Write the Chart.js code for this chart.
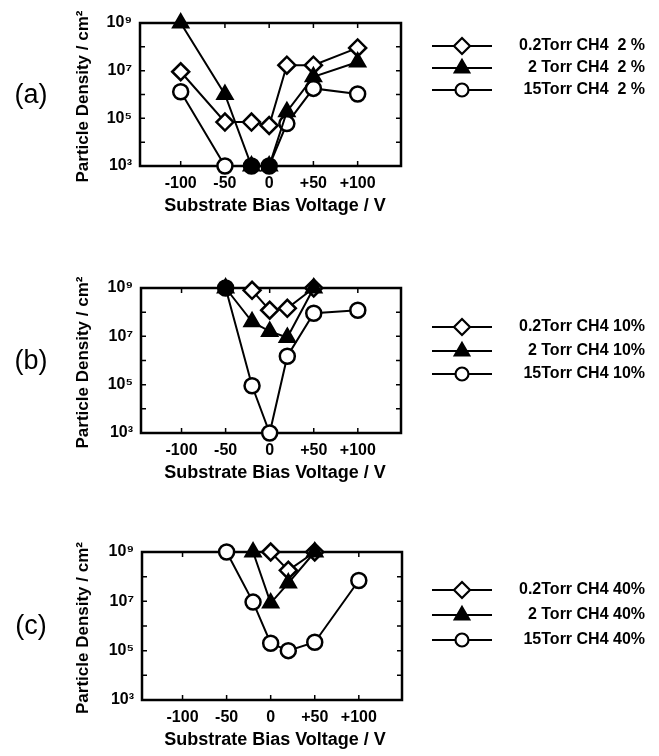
<!DOCTYPE html>
<html>
<head>
<meta charset="utf-8">
<script src="https://cdn.jsdelivr.net/npm/chart.js@4.4.1/dist/chart.umd.min.js"></script>
<style>
  html, body { margin: 0; padding: 0; background: #fff; }
  #wrap { position: relative; width: 659px; height: 756px; }
  canvas { position: absolute; left: 0; }
</style>
</head>
<body>
<div id="wrap">
  <canvas id="panelA" width="659" height="252" style="top:0px"></canvas>
  <canvas id="panelB" width="659" height="252" style="top:252px"></canvas>
  <canvas id="panelC" width="659" height="252" style="top:504px"></canvas>
</div>
<script>
// -------- Data --------
const xTicks = [-100, -50, 0, 50, 100];
const yTicks = [1e3, 1e5, 1e7, 1e9];

// panel (a): CH4 2 %
const voltageA = [-100, -50, -20, 0, 20, 50, 100];
const diamondA = [9e6, 7e4, 7e4, 5e4, 1.7e7, 1.7e7, 9e7];
const triangleA = [1e9, 1e6, 1e3, 1e3, 1.9e5, 5.5e6, 2.3e7];
const circleA = [1.3e6, 1e3, 1e3, 1e3, 6e4, 1.8e6, 1.05e6];
const namesA = ['0.2Torr CH4  2 %', '2 Torr CH4  2 %', '15Torr CH4  2 %'];

// panel (b): CH4 10%
const voltageB = [-50, -20, 0, 20, 50, 100];
const diamondB = [null, 8e8, 1.2e8, 1.45e8, 1e9, null];
const triangleB = [1e9, 4e7, 1.6e7, 9e6, 1e9, null];
const circleB = [1e9, 9e4, 1e3, 1.5e6, 9e7, 1.2e8];
const namesB = ['0.2Torr CH4 10%', '2 Torr CH4 10%', '15Torr CH4 10%'];

// panel (c): CH4 40%
const voltageC = [-50, -20, 0, 20, 50, 100];
const diamondC = [null, null, 1e9, 1.8e8, 1e9, null];
const triangleC = [null, 1e9, 8.5e6, 5.5e7, 1e9, null];
const circleC = [1e9, 9.3e6, 2e5, 1e5, 2.2e5, 7e7];
const namesC = ['0.2Torr CH4 40%', '2 Torr CH4 40%', '15Torr CH4 40%'];


// -------- Drawing helpers --------
const FONT = '"Liberation Sans", Arial, Helvetica, sans-serif';
const SUP = { '3': '\u00B3', '5': '\u2075', '7': '\u2077', '9': '\u2079' };

function drawMarker(ctx, kind, x, y) {
    ctx.save();
    ctx.lineWidth = 2.2;
    ctx.strokeStyle = '#000';
    ctx.beginPath();
    if (kind === 'rectRot') {
        const r = 8;
        ctx.moveTo(x, y - r); ctx.lineTo(x + r, y); ctx.lineTo(x, y + r); ctx.lineTo(x - r, y); ctx.closePath();
        ctx.fillStyle = '#fff';
    } else if (kind === 'triangle') {
        const r = 8;
        ctx.moveTo(x, y - r); ctx.lineTo(x + r * 0.9, y + r * 0.55); ctx.lineTo(x - r * 0.9, y + r * 0.55); ctx.closePath();
        ctx.fillStyle = '#000';
    } else {
        ctx.arc(x, y, 6.5, 0, Math.PI * 2);
        ctx.fillStyle = '#fff';
    }
    ctx.fill();
    ctx.stroke();
    ctx.restore();
}

const frameDecor = {
    id: 'frameDecor',

    beforeDatasetsDraw(chart) {
        const { ctx, chartArea: a, scales: { x, y } } = chart;
        ctx.save();
        ctx.strokeStyle = '#000';
        ctx.lineWidth = 2.5;
        ctx.strokeRect(a.left, a.top, a.right - a.left, a.bottom - a.top);

        // inward ticks
        ctx.lineWidth = 1.5;
        ctx.beginPath();
        xTicks.forEach(v => {
            const px = x.getPixelForValue(v);
            ctx.moveTo(px, a.bottom); ctx.lineTo(px, a.bottom - 5);
            ctx.moveTo(px, a.top); ctx.lineTo(px, a.top + 5);
        });
        for (let e = 3; e <= 9; e++) {
            const py = y.getPixelForValue(Math.pow(10, e));
            ctx.moveTo(a.left, py); ctx.lineTo(a.left + 5, py);
            ctx.moveTo(a.right, py); ctx.lineTo(a.right - 5, py);
        }
        ctx.stroke();
        ctx.restore();
    },

    afterDraw(chart, args, opts) {
        const { ctx, chartArea: a } = chart;
        const midY = (a.top + a.bottom) / 2;
        ctx.save();
        ctx.fillStyle = '#000';

        // x title
        ctx.font = 'bold 18px ' + FONT;
        ctx.textAlign = 'center';
        ctx.textBaseline = 'middle';
        ctx.fillText('Substrate Bias Voltage / V', 275, a.bottom + 40);

        // y title
        ctx.save();
        ctx.translate(83, midY + 2);
        ctx.rotate(-Math.PI / 2);
        ctx.font = 'bold 17px ' + FONT;
        ctx.fillText('Particle Density / cm\u00B2', 0, 0);
        ctx.restore();

        // panel tag
        ctx.font = '27px ' + FONT;
        ctx.fillText(opts.tag, 31, midY + 1);

        // legend
        chart.data.datasets.forEach((ds, i) => {
            const ly = opts.legendY[i];
            ctx.lineWidth = 2;
            ctx.beginPath();
            ctx.moveTo(432, ly); ctx.lineTo(492, ly);
            ctx.stroke();
            drawMarker(ctx, ds.pointStyle, 462, ly);
            ctx.font = 'bold 16px ' + FONT;
            ctx.textAlign = 'right';
            ctx.fillText(ds.label, 645, ly);
            ctx.textAlign = 'center';
        });
        ctx.restore();
    }
};


// -------- Panels --------
function makePanel(id, frame, tag, legendY, voltages, diamond, triangle, circle, names) {

    const canvas = document.getElementById(id);
    const yW = 40, xH = 30;
    const pts = vals => voltages.map((v, i) => ({ x: v, y: vals[i] })).filter(p => p.y !== null);

    const base = {
        borderColor: '#000',
        borderWidth: 2,
        pointBorderColor: '#000',
        pointBorderWidth: 2.5,
        tension: 0,
        clip: false
    };

    new Chart(canvas, {
        type: 'line',
        data: {
            datasets: [
                { ...base, label: names[0], data: pts(diamond), pointStyle: 'rectRot', pointRadius: 8.5, pointBackgroundColor: '#fff', order: 1 },
                { ...base, label: names[1], data: pts(triangle), pointStyle: 'triangle', pointRadius: 8.5, pointBackgroundColor: '#000', order: 0 },
                {
                    ...base, label: names[2], data: pts(circle), pointStyle: 'circle', pointRadius: 7.5, order: 2,
                    pointBackgroundColor: c => {
                        const r = c.raw;
                        if (!r) return '#fff';
                        return triangle[voltages.indexOf(r.x)] === r.y ? '#000' : '#fff';
                    }
                }
            ]
        },
        options: {
            responsive: false,
            animation: false,
            events: [],
            layout: {
                padding: {
                    left: frame.left - yW,
                    right: canvas.width - frame.right,
                    top: frame.top,
                    bottom: canvas.height - frame.bottom - xH
                }
            },
            plugins: {
                legend: { display: false },
                tooltip: { enabled: false },
                frameDecor: { tag: tag, legendY: legendY }
            },
            scales: {
                x: {
                    type: 'linear',
                    min: -146,
                    max: 149,
                    grid: { display: false, drawTicks: false },
                    border: { display: false },
                    afterBuildTicks: s => { s.ticks = xTicks.map(v => ({ value: v })); },
                    afterFit: s => { s.height = xH; },
                    ticks: {
                        color: '#000',
                        padding: 8,
                        autoSkip: false,
                        maxRotation: 0,
                        font: { family: FONT, size: 16, weight: 'bold' },
                        callback: v => v > 0 ? '+' + v : String(v)
                    }
                },
                y: {
                    type: 'logarithmic',
                    min: 1e3,
                    max: 1e9,
                    grid: { display: false, drawTicks: false },
                    border: { display: false },
                    afterBuildTicks: s => { s.ticks = yTicks.map(v => ({ value: v })); },
                    afterFit: s => { s.width = yW; },
                    ticks: {
                        color: '#000',
                        padding: 8,
                        autoSkip: false,
                        font: { family: FONT, size: 16, weight: 'bold' },
                        callback: v => '10' + SUP[String(Math.round(Math.log10(v)))]
                    }
                }
            }
        },
        plugins: [frameDecor]
    });
}

makePanel('panelA', { left: 140, right: 401, top: 23, bottom: 166 }, '(a)', [46, 68, 90],
    voltageA, diamondA, triangleA, circleA, namesA);
makePanel('panelB', { left: 141, right: 401, top: 36, bottom: 181 }, '(b)', [75, 99, 122],
    voltageB, diamondB, triangleB, circleB, namesB);
makePanel('panelC', { left: 142, right: 402, top: 48, bottom: 196 }, '(c)', [86, 111, 136],
    voltageC, diamondC, triangleC, circleC, namesC);
</script>
</body>
</html>
